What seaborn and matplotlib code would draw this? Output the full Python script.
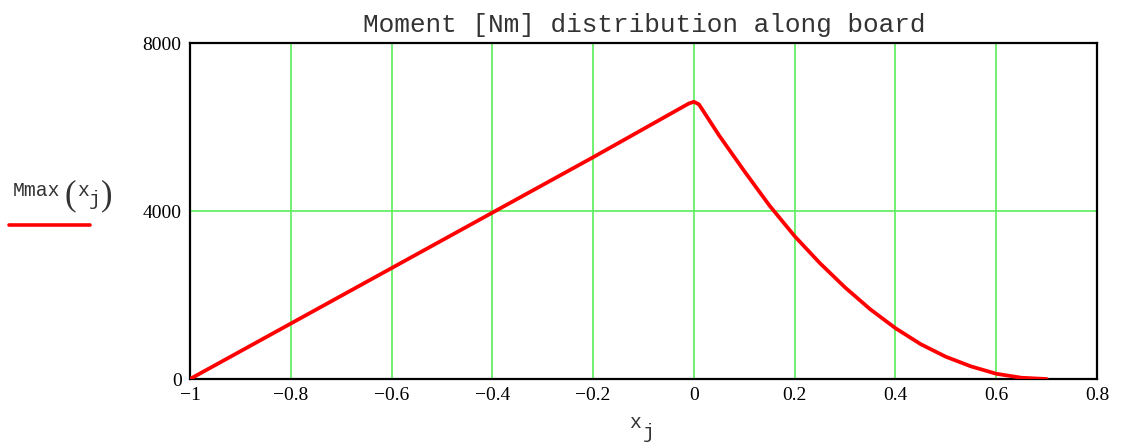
import matplotlib
matplotlib.use("Agg")
import matplotlib.pyplot as plt
import seaborn as sns
import pandas as pd

# Bending moment along the board (x in m, M in N·m)
x_pos = [-1.0, -0.6, -0.4, -0.2, -0.01, 0.0, 0.01, 0.05, 0.10, 0.15, 0.20,
         0.25, 0.30, 0.35, 0.40, 0.45, 0.50, 0.55, 0.60, 0.65, 0.70]
moment = [0, 2640, 3960, 5280, 6560, 6600, 6540, 5800, 4950, 4130, 3400,
          2760, 2180, 1660, 1210, 830, 530, 300, 125, 30, 0]

x_ticks = [-1, -0.8, -0.6, -0.4, -0.2, 0, 0.2, 0.4, 0.6, 0.8]
x_tick_labels = ["\u22121", "\u22120.8", "\u22120.6", "\u22120.4", "\u22120.2",
                 "0", "0.2", "0.4", "0.6", "0.8"]
y_ticks = [0, 4000, 8000]
y_tick_labels = ["0", "4000", "8000"]

W, H = 1122, 443
sns.set_theme(style="white")
plt.rcParams["font.family"] = ["Liberation Serif", "DejaVu Serif"]

fig = plt.figure(figsize=(W / 100, H / 100), dpi=100)
ax = fig.add_axes([190 / W, 1 - 379 / H, (1097 - 190) / W, (379 - 43) / H])

df = pd.DataFrame({"x": x_pos, "M": moment})
sns.lineplot(data=df, x="x", y="M", ax=ax, color="#ff0000", linewidth=2.7,
             sort=False, estimator=None, zorder=5)
for ln in ax.lines:
    ln.set_solid_joinstyle("round")
    ln.set_solid_capstyle("round")

ax.set_xlim(-1, 0.8)
ax.set_ylim(0, 8000)
ax.set_xticks(x_ticks)
ax.set_yticks(y_ticks)
ax.set_xticklabels(x_tick_labels)
ax.set_yticklabels(y_tick_labels)
ax.tick_params(axis="both", length=0, labelsize=14, colors="black", pad=6)
ax.set_xlabel("")
ax.set_ylabel("")

ax.grid(True, color="#5aee5a", linewidth=1.2)
for s in ax.spines.values():
    s.set_color("black")
    s.set_linewidth(1.6)

mono = ["Liberation Mono", "DejaVu Sans Mono"]
serif = ["Liberation Serif", "DejaVu Serif"]


def ftext(px, py, s, size, family=mono, **kw):
    fig.text(px / W, 1 - py / H, s, fontsize=size, family=family, color="#333333", **kw)


# title
ftext(644, 32, "Moment [Nm] distribution along board", 18.8, ha="center", va="baseline")

# y-axis label with legend swatch
ftext(13, 196, "Mmax", 14.2, ha="left", va="baseline")
ftext(65, 204, "(", 25, family=serif, ha="left", va="baseline")
ftext(77, 196, "x", 14.2, ha="left", va="baseline")
ftext(89, 205, "j", 14.2, ha="left", va="baseline")
ftext(101, 204, ")", 25, family=serif, ha="left", va="baseline")
fig.add_artist(plt.Line2D([9 / W, 90 / W], [1 - 225 / H, 1 - 225 / H],
                          color="#ff0000", linewidth=2.6, solid_capstyle="round"))

# x-axis label
ftext(629, 428, "x", 14.2, ha="left", va="baseline")
ftext(643, 438, "j", 14.2, ha="left", va="baseline")

fig.savefig("out.png", dpi=100, facecolor="white")
